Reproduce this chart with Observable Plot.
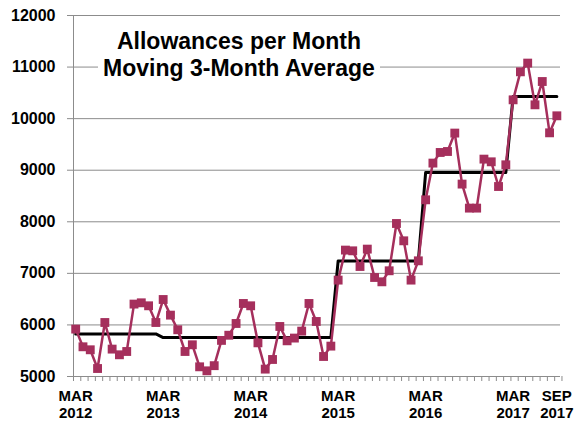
<!DOCTYPE html>
<html>
<head>
<meta charset="utf-8">
<script src="https://cdn.jsdelivr.net/npm/d3@7"></script>
<script src="https://cdn.jsdelivr.net/npm/@observablehq/plot@0.6"></script>
<style>
  html, body { margin: 0; padding: 0; background: #fff; }
  #wrap { position: relative; width: 574px; height: 423px; font-family: "Liberation Sans", Arial, sans-serif; }
  #title {
    position: absolute; left: 98px; top: 28px; width: 282px;
    background: #fff; text-align: center; font-weight: bold;
    font-size: 23px; line-height: 27px; color: #000;
  }
</style>
</head>
<body>
<div id="wrap">
  <div id="chart"></div>
  <div id="title">Allowances per Month<br>Moving 3-Month Average</div>
</div>
<script>
// Monthly values, Mar 2012 .. Sep 2017 (index 0..66)
const values2012 = [5919, 5576, 5518, 5155, 6047, 5531, 5421, 5485, 6404, 6429, 6371, 6047];
const values2013 = [6493, 6190, 5906, 5485, 5615, 5188, 5110, 5210, 5700, 5800, 6028, 6416];
const values2014 = [6371, 5653, 5143, 5330, 5970, 5692, 5745, 5880, 6416, 6067, 5388, 5589];
const values2015 = [6869, 7451, 7437, 7133, 7470, 6920, 6836, 7050, 7967, 7631, 6869, 7243];
const values2016 = [8426, 9138, 9344, 9363, 9720, 8731, 8265, 8265, 9215, 9163, 8684, 9105];
const values2017 = [10365, 10908, 11077, 10268, 10720, 9725, 10055];

// Average level (black line), read per month
const avg2012 = [5825, 5825, 5825, 5825, 5825, 5825, 5825, 5825, 5825, 5825, 5825, 5825];
const avg2013 = [5755, 5755, 5755, 5755, 5755, 5755, 5755, 5755, 5755, 5755, 5755, 5755];
const avg2014 = [5755, 5755, 5755, 5755, 5755, 5755, 5755, 5755, 5755, 5755, 5755, 5755];
const avg2015 = [7240, 7240, 7240, 7240, 7240, 7240, 7240, 7240, 7240, 7240, 7240, 7240];
const avg2016 = [8955, 8955, 8955, 8955, 8955, 8955, 8955, 8955, 8955, 8955, 8955, 8955];
const avg2017 = [10430, 10430, 10430, 10430, 10430, 10430, 10430];

const tickLabels = ["MAR\n2012", "MAR\n2013", "MAR\n2014", "MAR\n2015", "MAR\n2016", "MAR\n2017", "SEP\n2017"];
const tickMonthIndex = [0, 12, 24, 36, 48, 60, 66];
const yTicks = [5000, 6000, 7000, 8000, 9000, 10000, 11000, 12000];

const values = [].concat(values2012, values2013, values2014, values2015, values2016, values2017);
const avgs = [].concat(avg2012, avg2013, avg2014, avg2015, avg2016, avg2017);
const data = values.map((v, i) => ({i, v, a: avgs[i]}));
const labelData = tickLabels.map((t, k) => ({i: tickMonthIndex[k], t}));

const xMin = -0.3, xMax = 66.5;
const yMin = 5000, yMax = 12000;
const minorTicks = d3.range(values.length + 1).map(i => i - 0.3);
const pink = "#A52F5C";
const gray = "#8c8c8c";

const chart = Plot.plot({
  width: 574,
  height: 423,
  marginLeft: 73,
  marginRight: 14,
  marginTop: 15,
  marginBottom: 47,
  style: {fontFamily: "Liberation Sans, Arial, sans-serif", color: "#000", background: "#fff", overflow: "visible"},
  x: {domain: [xMin, xMax], axis: null},
  y: {domain: [yMin, yMax]},
  marks: [
    Plot.gridY(yTicks, {stroke: gray, strokeOpacity: 1}),
    Plot.axisY({ticks: yTicks, tickSize: 6, stroke: gray, tickFormat: () => ""}),
    Plot.axisY({ticks: yTicks, tickSize: 0, tickPadding: 18, fontSize: 16, fontWeight: "bold", tickFormat: d => String(d)}),
    Plot.ruleX([xMin], {stroke: gray}),
    Plot.ruleY([yMin], {stroke: gray}),
    // minor month ticks below the x axis (about 5px long)
    Plot.ruleX(minorTicks, {y1: yMin, y2: yMin - (yMax - yMin) * 5 / 361, stroke: gray}),
    Plot.text(labelData, {x: "i", text: "t", frameAnchor: "bottom", lineAnchor: "top", dy: 11.5, fontSize: 15, fontWeight: "bold", lineHeight: 1.18, fill: "#000"}),
    Plot.line(data, {x: "i", y: "a", stroke: "#000", strokeWidth: 3}),
    Plot.line(data, {x: "i", y: "v", stroke: pink, strokeWidth: 2.5}),
    Plot.dot(data, {x: "i", y: "v", symbol: "square", r: 5, fill: pink, stroke: "none"})
  ]
});
document.getElementById("chart").appendChild(chart);
</script>
</body>
</html>
